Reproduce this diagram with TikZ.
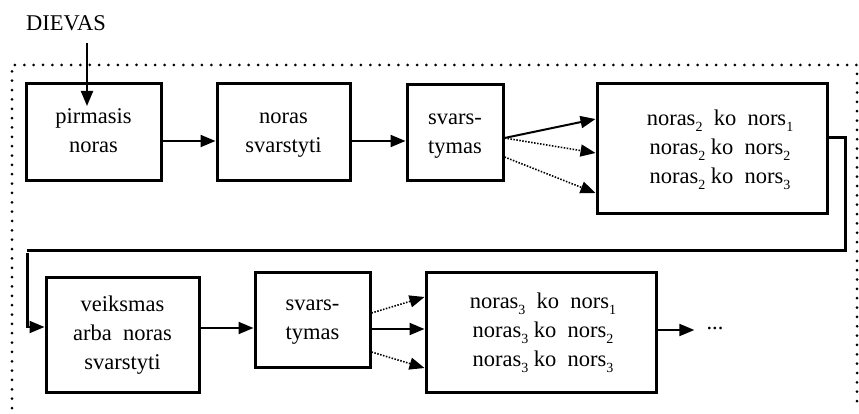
\documentclass[tikz,border=0pt]{standalone}
\usepackage{fontspec}
\setmainfont{Liberation Serif}
\usetikzlibrary{arrows.meta}
\newcommand\subd[1]{\raisebox{-6pt}{\fontsize{14}{14}\selectfont #1}}
\begin{document}
\begin{tikzpicture}[x=1pt,y=-1pt,
  box/.style={draw, line width=3pt, inner sep=0pt, align=center, font=\fontsize{22.5}{29}\selectfont},
  lbl/.style={inner sep=0pt, align=center, font=\fontsize{22.5}{29}\selectfont},
  txt/.style={inner sep=0pt, font=\fontsize{22.5}{26}\selectfont},
  arr/.style={line width=2pt, -{Triangle[length=15pt,width=12pt]}},
  darr/.style={line width=1.6pt, dash pattern=on 1.5pt off 1.5pt, -{Triangle[length=15pt,width=12pt]}},
  fb/.style={line width=3pt},
  frame/.style={line width=3pt, line cap=round, dash pattern=on 0pt off 9.35pt}]
\useasboundingbox (0,0) rectangle (859,414);
% dotted frame
\draw[frame] (12,408) -- (12,65) -- (857,65) -- (857,408);
% top text
\node[txt] (dievas) at (66,23) {DIEVAS};
% boxes
\node[box, minimum width=135pt, minimum height=97pt] (b1) at (93.5,132.5) {\strut pirmasis\\\strut noras};
\node[box, minimum width=133pt, minimum height=97pt] (b2) at (283.5,132.5) {\strut noras\\\strut svarstyti};
\node[box, minimum width=96pt, minimum height=96pt] (b3) at (455,133) {\strut svars-\\\strut tymas};
\node[box, minimum width=230pt, minimum height=130pt,
  label={[lbl, xshift=8pt]center:{\strut noras\subd{2}\ \ ko\ \ nors\subd{1}\\\strut noras\subd{2} ko\ \ nors\subd{2}\\\strut noras\subd{2} ko\ \ nors\subd{3}}}] (b4) at (712,149) {};
\node[box, minimum width=153pt, minimum height=115pt] (b5) at (122.5,334.5) {\strut veiksmas\\\strut arba\ \ noras\\\strut svarstyti};
\node[box, minimum width=115pt, minimum height=95pt] (b6) at (312.5,319.5) {\strut svars-\\\strut tymas};
\node[box, minimum width=230pt, minimum height=120pt,
  label={[lbl, xshift=2pt]center:{\strut noras\subd{3}\ \ ko\ \ nors\subd{1}\\\strut noras\subd{3} ko\ \ nors\subd{2}\\\strut noras\subd{3} ko\ \ nors\subd{3}}}] (b7) at (541,332) {};
\node[txt] (dots) at (715,328) {...};
% connectors
\coordinate (dtop) at (87,43);
\coordinate (dtip) at (87,106);
\draw[arr] (dtop) -- (dtip);
\draw[arr] ([yshift=-8.5pt]b1.east) -- ([yshift=-8.5pt]b1.east -| b2.west);
\draw[arr] ([yshift=-8.5pt]b2.east) -- ([yshift=-8.5pt]b2.east -| b3.west);
\draw[arr] ([yshift=-5pt]b3.east) -- ([yshift=30pt]b4.west);
\draw[darr] ([yshift=-5pt]b3.east) -- ([yshift=-4pt]b4.west);
\draw[darr] ([yshift=-24pt]b3.east) -- ([yshift=-44pt]b4.west);
% feedback
\coordinate (c1) at (845,250);
\coordinate (c2) at (27,250);
\coordinate (c3) at (27,253);
\coordinate (c4) at (27,328);
\coordinate (c5) at (29,327);
\draw[fb] ([yshift=11pt]b4.east) -| (c1) -- (c2);
\draw[fb] (c3) -- (c4);
\draw[arr] (c5) -- ([yshift=7.5pt]b5.west);
\draw[arr] ([yshift=6.5pt]b5.east) -- ([yshift=6.5pt]b5.east -| b6.west);
\draw[darr] ([yshift=6.5pt]b6.east) -- ([yshift=35pt]b7.west);
\draw[arr] ([yshift=-9.5pt]b6.east) -- ([yshift=-9.5pt]b6.east -| b7.west);
\draw[darr] ([yshift=-32.5pt]b6.east) -- ([yshift=-36pt]b7.west);
\draw[arr, shorten >=12pt] ([yshift=2pt]b7.east) -- ([yshift=2pt]b7.east -| dots.west);
\end{tikzpicture}
\end{document}
